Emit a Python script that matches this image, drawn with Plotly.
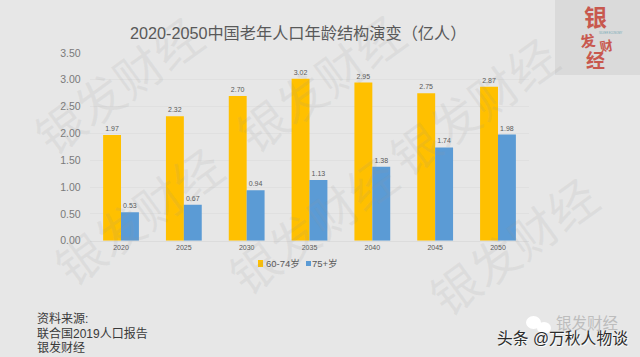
import plotly.graph_objects as go

W, H = 640, 357
years = ["2020", "2025", "2030", "2035", "2040", "2045", "2050"]
age_60_74 = [1.97, 2.32, 2.70, 3.02, 2.95, 2.75, 2.87]
age_75_plus = [0.53, 0.67, 0.94, 1.13, 1.38, 1.74, 1.98]
y_ticks = [0, 0.5, 1, 1.5, 2, 2.5, 3, 3.5]
title = "2020-2050中国老年人口年龄结构演变（亿人）"
source_lines = ["资料来源:", "联合国2019人口报告", "银发财经"]
watermark_text = "银发财经"
watermark_centers = [(120, 87), (322, 85), (475, 108), (140, 218), (315, 228), (515, 248)]

FONT = "Liberation Sans, Noto Sans CJK SC, sans-serif"
ORANGE, BLUE = "#FFC000", "#5B9BD5"


def px(x):
    return x / W


def py(y):
    return 1 - y / H


fig = go.Figure()
for name, vals, color in [("60-74岁", age_60_74, ORANGE), ("75+岁", age_75_plus, BLUE)]:
    fig.add_bar(
        x=years, y=vals, name=name, marker=dict(color=color, line_width=0),
        text=[f"{v:.2f}" for v in vals], textposition="outside", cliponaxis=False,
        textfont=dict(size=7, color="#595959", family=FONT),
    )

ann = []


def note(x, y, text, size, color, angle=0, xanchor="center", shadow=None):
    font = dict(size=size, color=color, family=FONT)
    if shadow:
        font["shadow"] = shadow
    ann.append(dict(x=px(x), y=py(y), xref="paper", yref="paper", text=text, showarrow=False,
                    xanchor=xanchor, yanchor="middle", textangle=angle, font=font))


def box(x0, y0, x1, y1, color, kind="rect"):
    return dict(type=kind, xref="paper", yref="paper", x0=px(x0), x1=px(x1), y0=py(y1), y1=py(y0),
                fillcolor=color, line_width=0, layer="below")


for cx, cy in watermark_centers:
    note(cx, cy, watermark_text, 48, "rgba(150,150,150,0.12)", angle=-36)

note(297.5, 33, title, 16.2, "#595959")
for i, line in enumerate(source_lines):
    note(35, 319 + i * 14.2, line, 12, "#3a3a3a", xanchor="left")

# legend
note(264, 263, "60-74岁", 9.5, "#595959", xanchor="left")
note(310, 263, "75+岁", 9.5, "#595959", xanchor="left")

# logo
note(595, 18, "<b>银</b>", 23, "#C8584E")
note(587, 41, "<b>发</b>", 15, "#C8584E", angle=-10)
note(606, 47, "<b>财</b>", 13, "#C8584E", angle=-10)
note(595, 61, "<b>经</b>", 19, "#C8584E")
note(610, 32.5, "SILVER ECONOMY", 2.6, "#6FA8B5")

# bottom-right credits
note(587, 323, "银发财经", 15.5, "#bdbdbd")
note(562.5, 338, "头条 @万秋人物谈", 15.8, "#2b2b2b", shadow="1px 1px 1px #ffffff")

fig.update_layout(
    width=W, height=H, autosize=False,
    margin=dict(l=0, r=0, t=0, b=0, autoexpand=False),
    paper_bgcolor="#E7E7E7", plot_bgcolor="#E7E7E7",
    barmode="group", bargap=0.43, bargroupgap=0,
    showlegend=False,
    font=dict(family=FONT),
    xaxis=dict(domain=[px(89.6), px(529.4)], type="category", showgrid=False, ticks="",
               showline=True, linecolor="#dcdcdc", linewidth=1,
               tickfont=dict(size=7, color="#595959")),
    yaxis=dict(domain=[py(240.7), py(53)], range=[0, 3.5], tickvals=y_ticks, tickformat=".2f",
               showgrid=True, gridcolor="#E0E0E0", gridwidth=1, zeroline=False, ticks="",
               ticklabelstandoff=8,
               tickfont=dict(size=10.5, color="#7a7a7a")),
    shapes=[
        box(555, 0, 640, 75, "#DADADA"),
        box(258, 260, 263, 267, ORANGE),
        box(306, 261, 311, 266, BLUE),
        box(526, 316, 541, 329, "#FFFFFF", "circle"),
        box(537, 322, 551, 334, "#FFFFFF", "circle"),
    ],
    annotations=ann,
)
fig.write_html(
    "out.html",
    config=dict(displayModeBar=False),
    post_script="document.body.style.margin='0';document.body.style.overflow='hidden';",
)
